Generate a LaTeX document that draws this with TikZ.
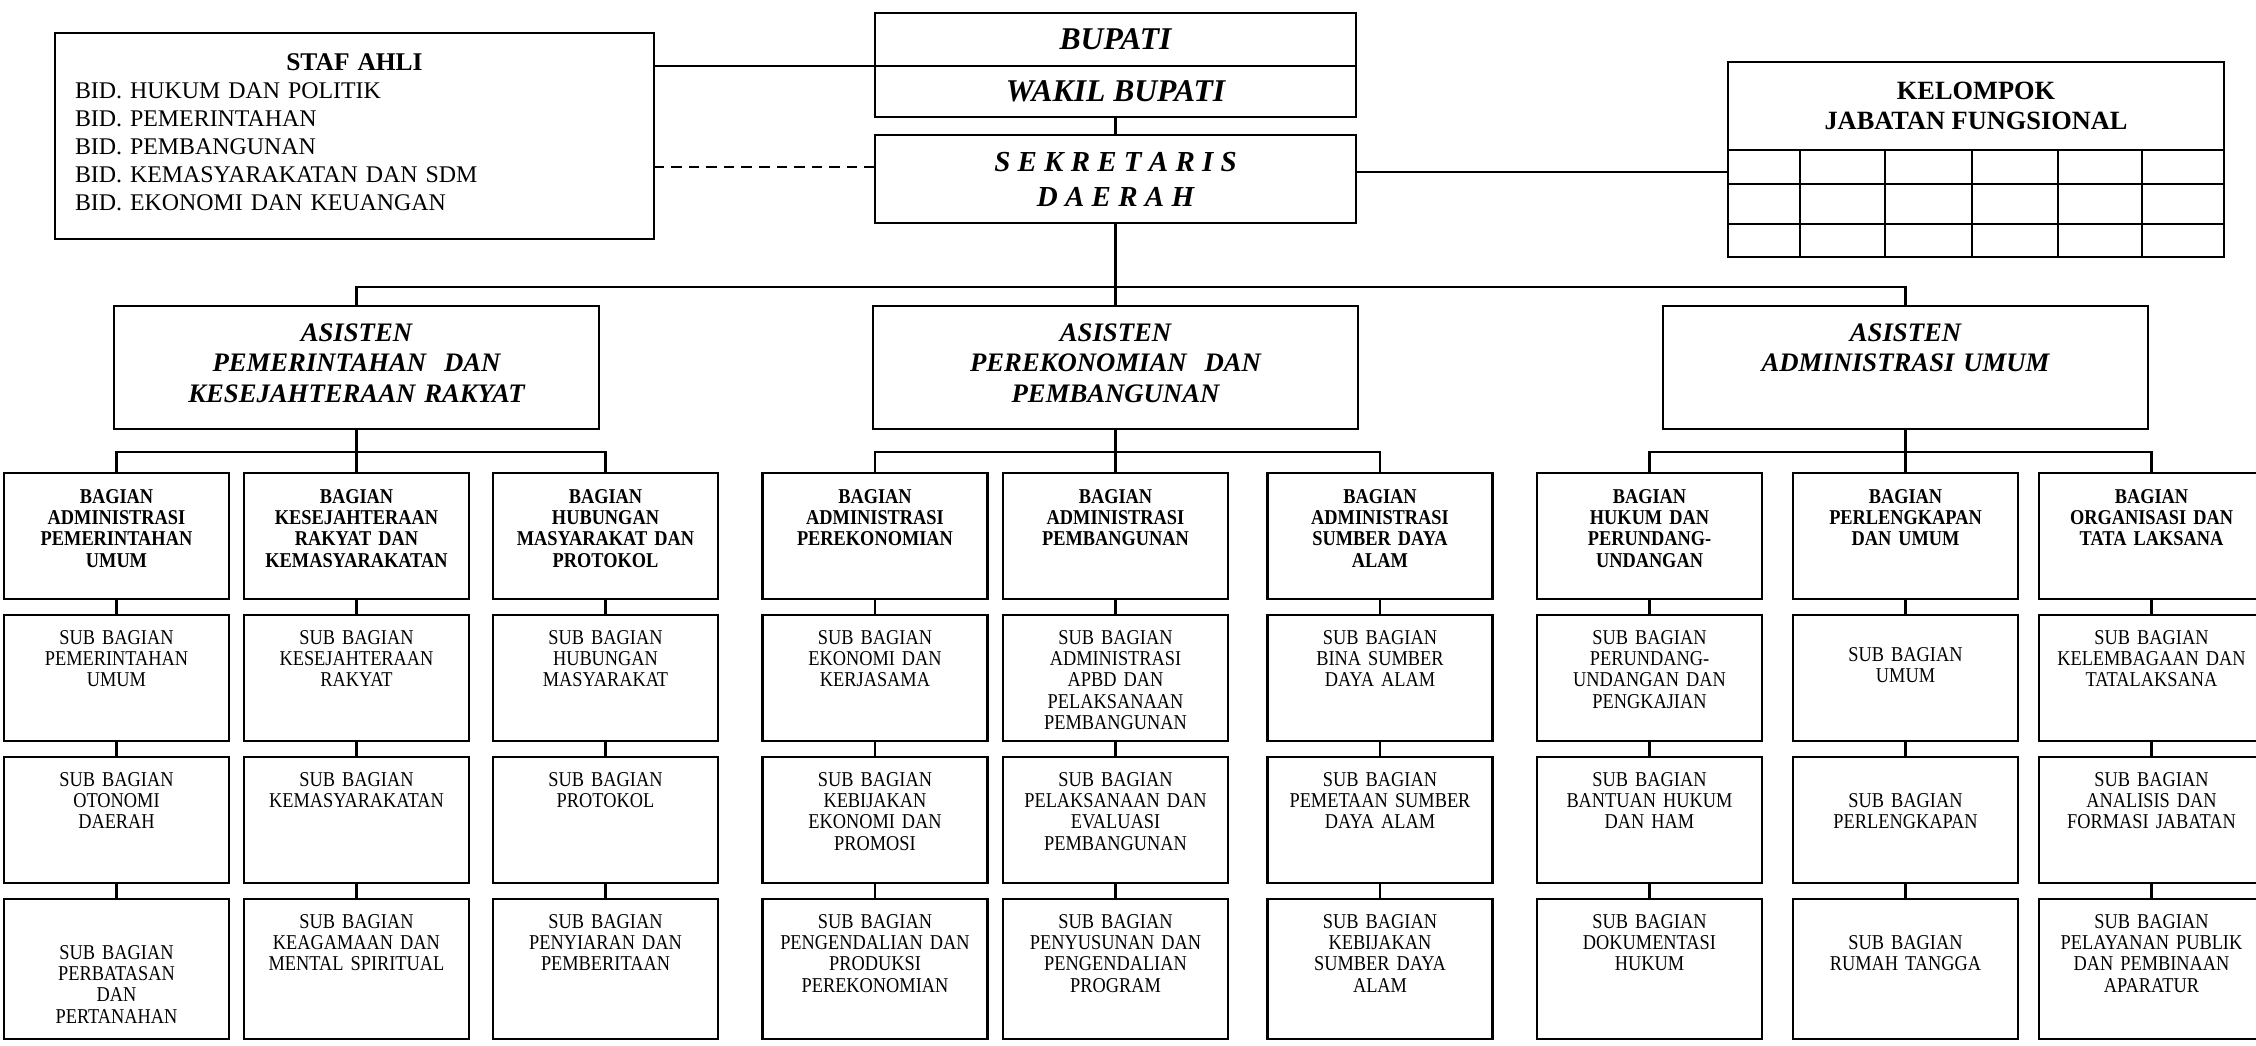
\documentclass[tikz,border=0pt]{standalone}
\usepackage{fontspec}
\setmainfont{Liberation Serif}
\newfontfamily\boxfont{Liberation Serif}[FakeStretch=0.87]
\usetikzlibrary{positioning}

\begin{document}
\begin{tikzpicture}[
    node distance=0.32cm,
    line width=1.3pt,
    outer sep=0pt,
    staf/.style={rectangle, draw, text width=11.18cm, inner xsep=0.4cm, inner ysep=0pt, align=left, text height=0.75cm, text depth=3.37cm, font=\fontsize{13.6}{15.9}\selectfont},
    pimpinan/.style={rectangle, draw, minimum width=9.62cm, inner sep=0pt, align=center, font=\bfseries\itshape\fontsize{16.5}{19.9}\selectfont},
    jabfung/.style={rectangle, draw, minimum width=9.92cm, minimum height=1.76cm, inner sep=0pt, align=center, font=\bfseries\fontsize{15}{17}\selectfont},
    asisten/.style={rectangle, draw, text width=9.5cm, inner xsep=0.1cm, inner ysep=0pt, align=center, text height=0.7cm, text depth=1.76cm, font=\bfseries\itshape\fontsize{15.2}{17.6}\selectfont},
    kotak/.style={rectangle, draw, text width=4.4cm, inner xsep=0.05cm, inner ysep=0pt, align=center, font=\boxfont\fontsize{12}{12.2}\selectfont},
    bagian/.style={kotak, text height=0.6cm, text depth=1.92cm, font=\boxfont\bfseries\fontsize{12}{12.2}\selectfont},
    subbag/.style={kotak, text height=0.58cm, text depth=1.94cm},
    subbagl/.style={kotak, text height=0.58cm, text depth=2.22cm},
    garisputus/.style={dash pattern=on 6pt off 4pt}
]
    \useasboundingbox (0,0) rectangle (45.12,-20.9);

    % Staf ahli
    \node[staf] (staf) at (7.09,-2.72) {{\centering\bfseries\fontsize{14.5}{15.9}\selectfont STAF AHLI\par}BID. HUKUM DAN POLITIK\\BID. PEMERINTAHAN\\BID. PEMBANGUNAN\\BID. KEMASYARAKATAN DAN SDM\\BID. EKONOMI DAN KEUANGAN};

    % Bupati, wakil, sekda
    \node[pimpinan, minimum height=1.06cm, font=\bfseries\itshape\fontsize{18}{19.9}\selectfont] (bupati) at (22.31,-0.79) {BUPATI};
    \node[pimpinan, minimum height=1.02cm, font=\bfseries\itshape\fontsize{18}{19.9}\selectfont, below=0cm of bupati] (wakil) {WAKIL BUPATI};
    \node[pimpinan, minimum height=1.76cm, below=0.36cm of wakil] (sekda) {S E K R E T A R I S\\D A E R A H};

    % Kelompok jabatan fungsional
    \node[jabfung] (kelompok) at (39.52,-2.12) {KELOMPOK\\JABATAN FUNGSIONAL};
    \draw (kelompok.south west) rectangle ++(9.92,-2.14);
    \foreach \x in {1.44,3.14,4.88,6.60,8.28}
        \draw ([xshift=\x cm]kelompok.south west) -- ++(0,-2.14);
    \foreach \y in {0.68,1.48}
        \draw ([yshift=-\y cm]kelompok.south west) -- ++(9.92,0);

    % Asisten
    \node[asisten, below=1.66cm of sekda] (as2) {ASISTEN\\PEREKONOMIAN\ \ DAN\\PEMBANGUNAN};
    \node[asisten, left=5.48cm of as2] (as1) {ASISTEN\\PEMERINTAHAN\ \ DAN\\KESEJAHTERAAN RAKYAT};
    \node[asisten, right=6.1cm of as2] (as3) {ASISTEN\\ADMINISTRASI UMUM};

    % Bagian - asisten pemerintahan
    \node[bagian, below=0.88cm of as1] (bag12) {BAGIAN\\KESEJAHTERAAN\\RAKYAT DAN\\KEMASYARAKATAN};
    \node[bagian, left=0.3cm of bag12] (bag11) {BAGIAN\\ADMINISTRASI\\PEMERINTAHAN\\UMUM};
    \node[bagian, right=0.48cm of bag12] (bag13) {BAGIAN\\HUBUNGAN\\MASYARAKAT DAN\\PROTOKOL};

    % Bagian - asisten perekonomian
    \node[bagian, below=0.88cm of as2] (bag22) {BAGIAN\\ADMINISTRASI\\PEMBANGUNAN};
    \node[bagian, left=0.31cm of bag22] (bag21) {BAGIAN\\ADMINISTRASI\\PEREKONOMIAN};
    \node[bagian, right=0.79cm of bag22] (bag23) {BAGIAN\\ADMINISTRASI\\SUMBER DAYA\\ALAM};

    % Bagian - asisten administrasi
    \node[bagian, below=0.88cm of as3] (bag32) {BAGIAN\\PERLENGKAPAN\\DAN UMUM};
    \node[bagian, left=0.62cm of bag32] (bag31) {BAGIAN\\HUKUM DAN\\PERUNDANG-\\UNDANGAN};
    \node[bagian, right=0.42cm of bag32] (bag33) {BAGIAN\\ORGANISASI DAN\\TATA LAKSANA};

    % Sub bagian
    \node[subbag, below=of bag11] (sub11a) {SUB BAGIAN\\PEMERINTAHAN\\UMUM};
    \node[subbag, below=of sub11a] (sub11b) {SUB BAGIAN\\OTONOMI\\DAERAH};
    \node[subbagl, text height=1.2cm, text depth=1.6cm, below=of sub11b] (sub11c) {SUB BAGIAN\\PERBATASAN\\DAN\\PERTANAHAN};

    \node[subbag, below=of bag12] (sub12a) {SUB BAGIAN\\KESEJAHTERAAN\\RAKYAT};
    \node[subbag, below=of sub12a] (sub12b) {SUB BAGIAN\\KEMASYARAKATAN};
    \node[subbagl, below=of sub12b] (sub12c) {SUB BAGIAN\\KEAGAMAAN DAN\\MENTAL SPIRITUAL};

    \node[subbag, below=of bag13] (sub13a) {SUB BAGIAN\\HUBUNGAN\\MASYARAKAT};
    \node[subbag, below=of sub13a] (sub13b) {SUB BAGIAN\\PROTOKOL};
    \node[subbagl, below=of sub13b] (sub13c) {SUB BAGIAN\\PENYIARAN DAN\\PEMBERITAAN};

    \node[subbag, below=of bag21] (sub21a) {SUB BAGIAN\\EKONOMI DAN\\KERJASAMA};
    \node[subbag, below=of sub21a] (sub21b) {SUB BAGIAN\\KEBIJAKAN\\EKONOMI DAN\\PROMOSI};
    \node[subbagl, below=of sub21b] (sub21c) {SUB BAGIAN\\PENGENDALIAN DAN\\PRODUKSI\\PEREKONOMIAN};

    \node[subbag, below=of bag22] (sub22a) {SUB BAGIAN\\ADMINISTRASI\\APBD DAN\\PELAKSANAAN\\PEMBANGUNAN};
    \node[subbag, below=of sub22a] (sub22b) {SUB BAGIAN\\PELAKSANAAN DAN\\EVALUASI\\PEMBANGUNAN};
    \node[subbagl, below=of sub22b] (sub22c) {SUB BAGIAN\\PENYUSUNAN DAN\\PENGENDALIAN\\PROGRAM};

    \node[subbag, below=of bag23] (sub23a) {SUB BAGIAN\\BINA SUMBER\\DAYA ALAM};
    \node[subbag, below=of sub23a] (sub23b) {SUB BAGIAN\\PEMETAAN SUMBER\\DAYA ALAM};
    \node[subbagl, below=of sub23b] (sub23c) {SUB BAGIAN\\KEBIJAKAN\\SUMBER DAYA\\ALAM};

    \node[subbag, below=of bag31] (sub31a) {SUB BAGIAN\\PERUNDANG-\\UNDANGAN DAN\\PENGKAJIAN};
    \node[subbag, below=of sub31a] (sub31b) {SUB BAGIAN\\BANTUAN HUKUM\\DAN HAM};
    \node[subbagl, below=of sub31b] (sub31c) {SUB BAGIAN\\DOKUMENTASI\\HUKUM};

    \node[subbag, text height=0.92cm, text depth=1.6cm, below=of bag32] (sub32a) {SUB BAGIAN\\UMUM};
    \node[subbag, text height=1.0cm, text depth=1.52cm, below=of sub32a] (sub32b) {SUB BAGIAN\\PERLENGKAPAN};
    \node[subbagl, text height=1.0cm, text depth=1.8cm, below=of sub32b] (sub32c) {SUB BAGIAN\\RUMAH TANGGA};

    \node[subbag, below=of bag33] (sub33a) {SUB BAGIAN\\KELEMBAGAAN DAN\\TATALAKSANA};
    \node[subbag, below=of sub33a] (sub33b) {SUB BAGIAN\\ANALISIS DAN\\FORMASI JABATAN};
    \node[subbagl, below=of sub33b] (sub33c) {SUB BAGIAN\\PELAYANAN PUBLIK\\DAN PEMBINAAN\\APARATUR};

    % Lines
    \draw (bupati.south west) -- (bupati.south west -| staf.east);
    \draw[garisputus] ([yshift=0.24cm]sekda.west) -- ([yshift=0.24cm]sekda.west -| staf.east);
    \draw ([yshift=0.14cm]sekda.east) -- ([yshift=0.14cm]sekda.east -| kelompok.west);
    \draw (wakil) -- (sekda);
    \draw (sekda) -- (as2);
    \draw (as1.north) -- ++(0,0.38) -| (as3.north);

    \draw (as1) -- (bag12);
    \draw (bag11.north) -- ++(0,0.42) -| (bag13.north);
    \draw (as2) -- (bag22);
    \draw (bag21.north) -- ++(0,0.42) -| (bag23.north);
    \draw (as3) -- (bag32);
    \draw (bag31.north) -- ++(0,0.42) -| (bag33.north);

    \draw (bag11) -- (sub11a) (sub11a) -- (sub11b) (sub11b) -- (sub11c);
    \draw (bag12) -- (sub12a) (sub12a) -- (sub12b) (sub12b) -- (sub12c);
    \draw (bag13) -- (sub13a) (sub13a) -- (sub13b) (sub13b) -- (sub13c);
    \draw (bag21) -- (sub21a) (sub21a) -- (sub21b) (sub21b) -- (sub21c);
    \draw (bag22) -- (sub22a) (sub22a) -- (sub22b) (sub22b) -- (sub22c);
    \draw (bag23) -- (sub23a) (sub23a) -- (sub23b) (sub23b) -- (sub23c);
    \draw (bag31) -- (sub31a) (sub31a) -- (sub31b) (sub31b) -- (sub31c);
    \draw (bag32) -- (sub32a) (sub32a) -- (sub32b) (sub32b) -- (sub32c);
    \draw (bag33) -- (sub33a) (sub33a) -- (sub33b) (sub33b) -- (sub33c);

\end{tikzpicture}
\end{document}
